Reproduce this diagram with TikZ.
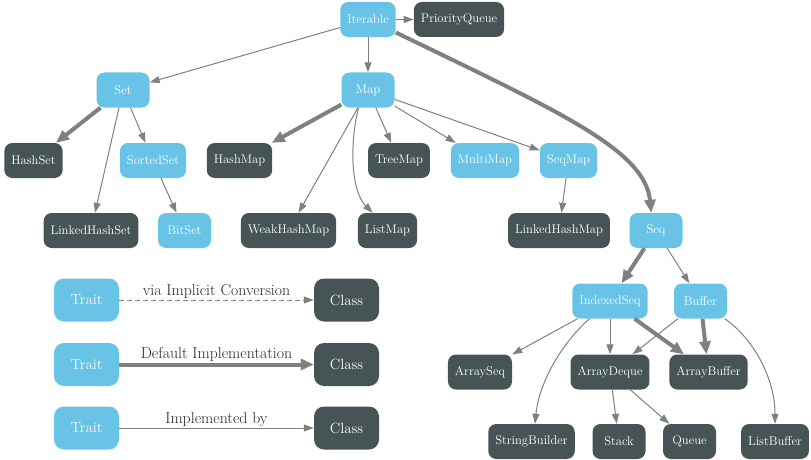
\documentclass[tikz,border=0pt]{standalone}
\usepackage{tikz}
\usetikzlibrary{arrows.meta}
\definecolor{traitblue}{RGB}{104,195,230}
\definecolor{classgray}{RGB}{70,84,86}
\definecolor{edgegray}{RGB}{128,128,128}

\begin{document}
\begin{tikzpicture}[x=1pt,y=-1pt,
		box/.style={rounded corners=8pt, text=white, minimum height=35pt, minimum width=53pt, inner xsep=7pt, font=\fontsize{12.6}{15}\selectfont},
		trait/.style={box, fill=traitblue},
		klass/.style={box, fill=classgray},
		bigbox/.style={minimum width=65pt, minimum height=43pt, rounded corners=10pt, font=\fontsize{14.8}{17}\selectfont},
		impl/.style={draw=edgegray, line width=1pt, -{Triangle[length=10pt,width=7pt]}},
		dflt/.style={draw=edgegray, line width=4pt, -{Triangle[length=13pt,width=11pt]}},
		conv/.style={impl, dash pattern=on 5pt off 3pt},
		legtext/.style={above, inner sep=1pt, text=black!85, font=\fontsize{15.8}{18}\selectfont}]
			\useasboundingbox (0,0) rectangle (811,460);
			% top levels
			\node[trait] (iterable) at (368,19.5) {Iterable};
			\node[klass] (pqueue) at (459,19.5) {PriorityQueue};
			\node[trait] (set) at (123,90) {Set};
			\node[trait] (map) at (368,90) {Map};
			\node[klass] (hashset) at (33.5,160.5) {HashSet};
			\node[trait] (sortedset) at (153,160.5) {SortedSet};
			\node[klass] (hashmap) at (239.5,160.5) {HashMap};
			\node[klass] (treemap) at (399,160.5) {TreeMap};
			\node[trait] (multimap) at (485,160.5) {MultiMap};
			\node[trait] (seqmap) at (568.5,160.5) {SeqMap};
			\node[klass] (lhashset) at (91,230.5) {LinkedHashSet};
			\node[trait] (bitset) at (184.5,230.5) {BitSet};
			\node[klass] (weakmap) at (288.5,230.5) {WeakHashMap};
			\node[klass] (listmap) at (387.5,230.5) {ListMap};
			\node[klass] (lhashmap) at (559,230.5) {LinkedHashMap};
			\node[trait] (seq) at (656,230.5) {Seq};
			% seq part
			\node[trait] (idxseq) at (610,301) {IndexedSeq};
			\node[trait] (buffer) at (700.5,301) {Buffer};
			\node[klass] (arrseq) at (480,372) {ArraySeq};
			\node[klass] (arrdeque) at (610,372) {ArrayDeque};
			\node[klass] (arrbuf) at (708.5,372) {ArrayBuffer};
			\node[klass] (strbuild) at (531.5,441.5) {StringBuilder};
			\node[klass] (stack) at (619,441.5) {Stack};
			\node[klass] (queue) at (689.5,441.5) {Queue};
			\node[klass] (listbuf) at (775,441.5) {ListBuffer};
			% edges
			\draw[impl] (iterable) -- (pqueue);
			\draw[impl] (iterable) -- (set);
			\draw[impl] (iterable) -- (map);
			\draw[dflt] (iterable.-25) .. controls (560,112) and (645,150) .. (seq.105);
			\draw[dflt] (set) -- (hashset);
			\draw[impl] (set) -- (lhashset);
			\draw[impl] (set) -- (sortedset);
			\draw[impl] (sortedset) -- (bitset);
			\draw[dflt] (map) -- (hashmap);
			\draw[impl] (map) -- (weakmap);
			\draw[impl] (map.-118) .. controls (350,140) and (350,190) .. (listmap.130);
			\draw[impl] (map) -- (treemap);
			\draw[impl] (map) -- (multimap);
			\draw[impl] (map) -- (seqmap);
			\draw[impl] (seqmap) -- (lhashmap);
			\draw[dflt] (seq) -- (idxseq);
			\draw[impl] (seq) -- (buffer);
			\draw[impl] (idxseq) -- (arrseq);
			\draw[impl] (idxseq.-139) .. controls (570,335) and (540,375) .. (strbuild.79);
			\draw[impl] (idxseq) -- (arrdeque);
			\draw[dflt] (idxseq) -- (arrbuf);
			\draw[impl] (buffer) -- (arrdeque);
			\draw[dflt] (buffer) -- (arrbuf);
			\draw[impl] (buffer.-36) .. controls (755,340) and (775,380) .. (listbuf.north);
			\draw[impl] (arrdeque) -- (stack);
			\draw[impl] (arrdeque) -- (queue);
			% legend
			\node[trait,bigbox] (trait1) at (86.5,300) {Trait};
			\node[klass,bigbox] (class1) at (346.5,300) {Class};
			\node[trait,bigbox] (trait2) at (86.5,364.5) {Trait};
			\node[klass,bigbox] (class2) at (346.5,364.5) {Class};
			\node[trait,bigbox] (trait3) at (86.5,428) {Trait};
			\node[klass,bigbox] (class3) at (346.5,428) {Class};
			\draw[conv] (trait1) -- node[legtext] {via Implicit Conversion} (class1);
			\draw[dflt] (trait2) -- node[legtext] {Default Implementation} (class2);
			\draw[impl] (trait3) -- node[legtext] {Implemented by} (class3);
		\end{tikzpicture}
\end{document}
